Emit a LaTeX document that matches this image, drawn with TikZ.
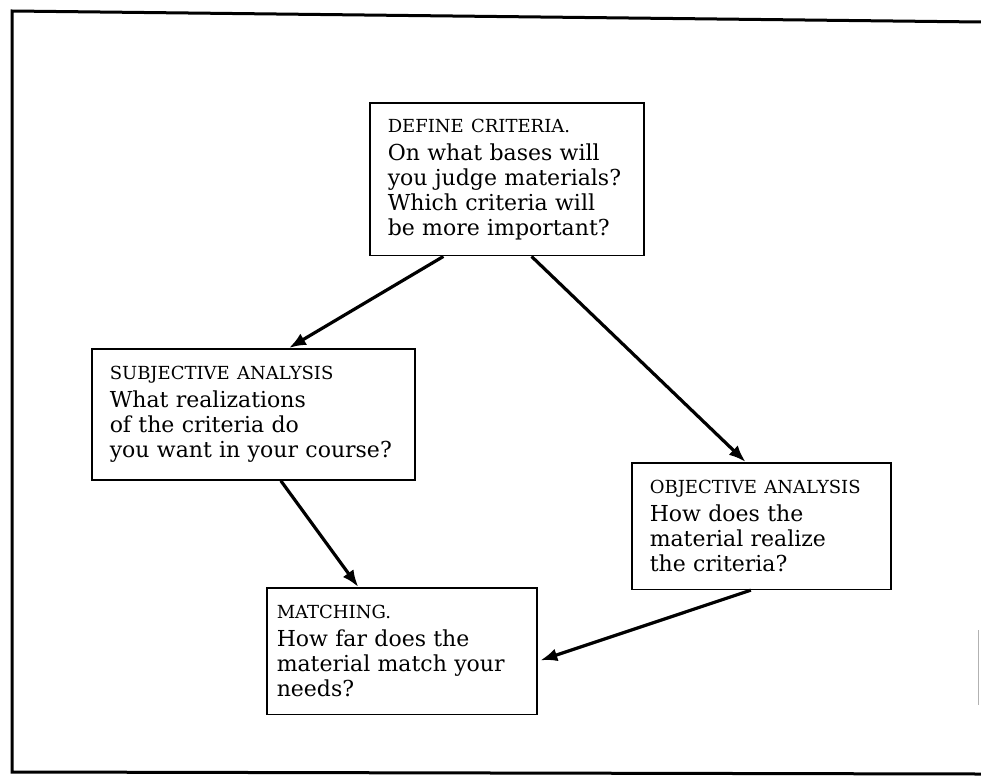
\documentclass[tikz,border=0pt]{standalone}
\usepackage{fontspec}
\setmainfont{DejaVu Serif}
\usetikzlibrary{arrows.meta,calc}
\newcommand{\stagehead}[1]{{\fontsize{18}{20}\selectfont #1}}
\tikzset{
  stage/.style={draw, line width=1.5pt, anchor=north west, align=left,
    inner xsep=18pt, inner ysep=17.5pt, font=\fontsize{22}{25}\selectfont},
  flow/.style={line width=3.2pt, -{Latex[length=17pt,width=13pt]}},
  frame/.style={line width=3pt}
}

\begin{document}
\begin{tikzpicture}[x=1pt,y=-1pt]
    \useasboundingbox (0,0) rectangle (981,776);

    \coordinate (TL) at (12,11);
    \coordinate (TR) at (981,22);
    \coordinate (BL) at (12,772);
    \coordinate (BR) at (981,774);
    \draw[frame] (TR) -- (TL) -- (BL) -- (BR);
    \draw[gray!60, line width=0.6pt] (978,630) -- (978,705);

    \node[stage, text width=238pt, inner ysep=16pt] (define) at (369,102)
        {\stagehead{DEFINE CRITERIA.}\\[3pt]
         On what bases will\\ you judge materials?\\
         Which criteria will\\ be more important?};

    \node[stage, text width=287pt] (subj) at (91,348)
        {\stagehead{SUBJECTIVE ANALYSIS}\\[3pt]
         What realizations\\ of the criteria do\\
         you want in your course?};

    \node[stage, text width=223pt] (obj) at (631,462)
        {\stagehead{OBJECTIVE ANALYSIS}\\[3pt]
         How does the\\ material realize\\ the criteria?};

    \node[stage, inner xsep=10pt, text width=250pt] (match) at (266,587)
        {\stagehead{MATCHING.}\\[3pt]
         How far does the\\ material match your\\ needs?};

    \draw[flow] ($(define.south west)!0.27!(define.south east)$)
        -- ($(subj.north west)!0.61!(subj.north east)$);
    \draw[flow] ($(define.south west)!0.59!(define.south east)$)
        -- ($(obj.north west)!0.44!(obj.north east)$);
    \draw[flow] ($(subj.south west)!0.585!(subj.south east)$)
        -- ($(match.north west)!0.34!(match.north east)$);
    \draw[flow, shorten >=3pt] ($(obj.south west)!0.46!(obj.south east)$)
        -- ($(match.north east)!0.58!(match.south east)$);
\end{tikzpicture}
\end{document}
